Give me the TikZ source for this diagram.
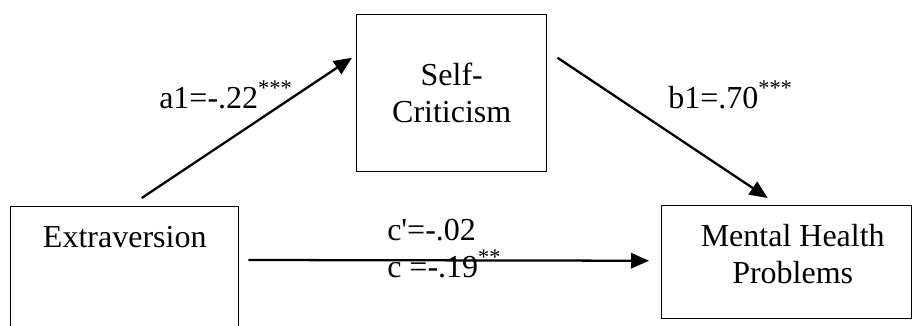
\documentclass[tikz,border=0pt]{standalone}
\usepackage{fontspec}
\setmainfont{Liberation Serif}
\usepackage{tikz}
\usetikzlibrary{arrows.meta, positioning, calc}

\begin{document}
\begin{tikzpicture}[
    x=0.75pt, y=-0.75pt,
    >={Triangle[length=13.5pt, width=11.5pt]},
    every node/.style={font=\fontsize{24}{27.75}\selectfont},
    box/.style={rectangle, draw=black, line width=1.1pt, anchor=north west, inner sep=0pt, align=center},
    txt/.style={inner sep=0pt, align=center},
    arrow/.style={->, line width=1.7pt, color=black},
    coef/.style={inner sep=0pt, anchor=base west},
]
\useasboundingbox (0,0) rectangle (913,325);

% --- Boxes ---
\node[box, minimum width=171pt, minimum height=120pt] (ext) at (10,206) {};
\node[box, minimum width=142.5pt, minimum height=117.75pt] (self) at (356,14) {Self-\\Criticism};
\node[box, minimum width=187.5pt, minimum height=84.75pt] (mh) at (661,205) {};

% --- Box texts ---
\node[txt, anchor=base] (extlbl) at ([shift={(0,41)}]ext.north) {Extraversion};
\node[txt, anchor=north] (mhlbl) at ([shift={(6,19)}]mh.north) {Mental Health\\Problems};

% --- Paths ---
\draw[arrow] ([shift={(17,-8)}]ext.north) -- ([shift={(-4,-35.5)}]self.west);
\draw[arrow] ([shift={(10,-35.5)}]self.east) -- ([shift={(-19,-7)}]mh.north);
\draw[arrow] ([shift={(9,54)}]ext.north east) -- ([shift={(-12,-1.5)}]mh.west);

% --- Coefficients ---
\node[coef] (a1) at (159,108) {a1=-.22\textsuperscript{***}};
\node[coef] (b1) at (668,108) {b1=.70\textsuperscript{***}};
\node[coef] (cp) at (387,240) {c\textquotesingle=-.02};
\node[coef] (c) at (387,277) {c =-.19\textsuperscript{**}};

\end{tikzpicture}
\end{document}
